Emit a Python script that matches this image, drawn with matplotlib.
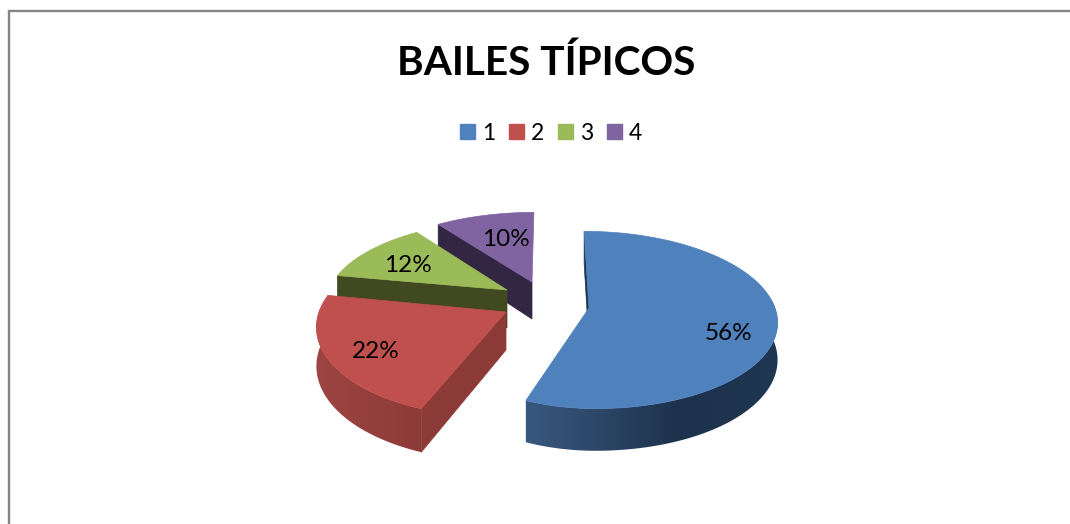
import matplotlib
matplotlib.use('Agg')
import matplotlib.pyplot as plt
import numpy as np
from matplotlib.colors import to_rgb
from matplotlib.patches import Patch, Polygon

plt.rcParams['font.family'] = ['Lato', 'DejaVu Sans']

titulo = 'BAILES TÍPICOS'
categorias = ['1', '2', '3', '4']
valores = [56, 22, 12, 10]

colores = ['#4F81BD', '#C0504D', '#9BBB59', '#8064A2']
corte = ['#1F3650', '#8C3A38', '#40491F', '#322642']
# gradient of the outer side, left to right
grad_pos = {0: [526, 680, 778], 1: [316, 425]}
grad_col = {0: ['#38597F', '#1D314C', '#1F3751'], 1: ['#9E4543', '#8B3A38']}

# apex of every exploded slice in pixels, its radii and where the label goes
centros = [(589, 308), (506, 312), (507, 290), (532, 282)]
rx_der = [186, 185, 178, 180]
rx_izq = [164, 187, 178, 180]
ry = [87, 91, 79, 79]
alto = [36.5, 38, 38, 37]
pos_texto = [(728, 333), (376, 350), (408, 264), (506, 238)]

K = 0.135
X0 = 548


def proyecta(i, ang):
    # ang in degrees, clockwise from 12 o'clock
    cx, cy = centros[i]
    t = np.radians(ang)
    u, v = np.sin(t), -np.cos(t)
    s = 1 / (1 - K * v)
    rx = rx_der[i] if u >= 0 else rx_izq[i]
    return X0 + (cx - X0 + rx * u) * s, cy + ry[i] * v * s, s


def punto(i, ang):
    x, y, s = proyecta(i, ang)
    return x, y


def abajo(i, ang):
    x, y, s = proyecta(i, ang)
    return x, y + alto[i] * s


fig = plt.figure(figsize=(10.7, 5.24), dpi=100)
ax = fig.add_axes([0, 0, 1, 1])

# chart area border, only the left and top edges are in the picture
ax.plot([8.5, 8.5, 1070], [524, 10.5, 10.5], color='#858585', lw=1.7, solid_joinstyle='miter')

fin = np.cumsum(valores) / sum(valores) * 360
ini = np.concatenate([[0], fin[:-1]])

# back to front
for i in [3, 2, 1, 0]:
    cx, cy = centros[i]
    a0, a1 = ini[i], fin[i]
    z = (3 - i) * 3

    # cut face
    pts = [punto(i, a0), (cx, cy), (cx, cy + alto[i]), abajo(i, a0)]
    ax.add_patch(Polygon(pts, closed=True, fc=corte[i], ec=corte[i], lw=0.5, zorder=2 + z))

    # outer side, only the part looking at the viewer
    if i in grad_pos:
        angs = np.linspace(max(a0, 85), min(a1, 272), 150)
        arriba = [punto(i, a) for a in angs]
        debajo = [abajo(i, a) for a in angs[::-1]]
        borde = Polygon(arriba + debajo, closed=True, transform=ax.transData)
        xs = np.arange(grad_pos[i][0] - 12, grad_pos[i][-1] + 12)
        rgb = np.array([to_rgb(c) for c in grad_col[i]])
        banda = np.stack([np.interp(xs, grad_pos[i], rgb[:, n]) for n in range(3)], axis=1)
        im = ax.imshow(banda[np.newaxis, :, :], extent=[xs[0], xs[-1], 470, 300], aspect='auto',
                       interpolation='bilinear', zorder=3 + z)
        im.set_clip_path(borde)

    # top of the slice
    arco = [punto(i, a) for a in np.linspace(a0, a1, 200)]
    ax.add_patch(Polygon([(cx, cy)] + arco, closed=True, fc=colores[i], ec=colores[i], lw=0.5,
                         zorder=4 + z))

ax.set_xlim(0, 1070)
ax.set_ylim(524, 0)
ax.axis('off')

for i in range(len(valores)):
    ax.text(pos_texto[i][0], pos_texto[i][1] + 1, '%d%%' % valores[i], fontsize=17.5, color='black',
            ha='center', va='center', zorder=30)

ax.text(546, 63, titulo, fontsize=29.2, fontweight='bold', color='black', ha='center', va='center')

handles = [Patch(facecolor=c, edgecolor=c, label=n) for c, n in zip(colores, categorias)]
ax.legend(handles=handles, ncols=4, loc='center', bbox_to_anchor=(551 / 1070, 1 - 133 / 524),
          frameon=False, fontsize=16.5, handlelength=0.66, handleheight=0.66,
          handletextpad=0.32, columnspacing=0.58, borderpad=0, borderaxespad=0)

fig.savefig('out.png', dpi=100)
